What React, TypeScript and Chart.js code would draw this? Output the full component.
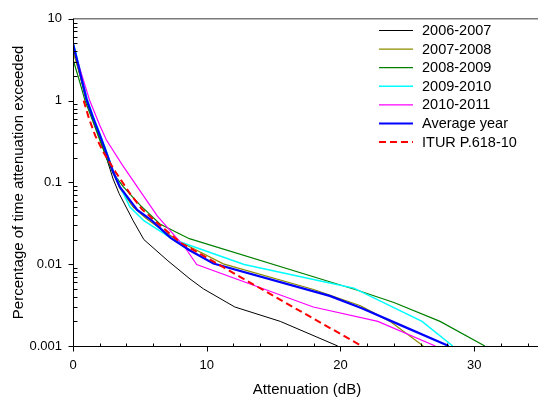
import React, { useEffect, useRef } from "react";
import { Chart, registerables } from "chart.js";

Chart.register(...registerables);

// ---- data ----
const seriesLabels = [
  "2006-2007",
  "2007-2008",
  "2008-2009",
  "2009-2010",
  "2010-2011",
  "Average year",
  "ITUR P.618-10",
];

const att0607 = [0, 0.5, 1, 1.5, 2, 2.5, 3, 3.45, 4.5, 5.3, 7.1, 8.75, 9.75, 12.1, 15.5, 19.8];
const pct0607 = [4.5, 2.1, 1.0, 0.58, 0.35, 0.2, 0.11, 0.073, 0.034, 0.02, 0.011, 0.0066, 0.005, 0.003, 0.002, 0.001];

const att0708 = [0, 0.5, 1, 1.5, 2, 2.5, 3, 3.5, 4.5, 5.5, 7, 8, 11.24, 18, 21.5, 23.7, 26.2];
const pct0708 = [4.0, 2.1, 1.05, 0.6, 0.37, 0.22, 0.13, 0.085, 0.05, 0.036, 0.024, 0.0188, 0.0101, 0.0049, 0.0031, 0.002, 0.001];

const att0809 = [0, 0.5, 0.9, 1.5, 2, 2.5, 3, 3.77, 5, 6.5, 8.7, 19.2, 21.1, 24, 27.45, 30.8];
const pct0809 = [3.2, 1.7, 1.0, 0.55, 0.33, 0.2, 0.13, 0.088, 0.053, 0.031, 0.0205, 0.0061, 0.0049, 0.0034, 0.002, 0.001];

const att0910 = [0, 0.5, 1.1, 1.5, 2, 2.5, 3, 3.5, 4.26, 5.3, 7.5, 12.8, 19.2, 21, 26.1, 28.4];
const pct0910 = [5.2, 2.5, 1.0, 0.65, 0.4, 0.24, 0.14, 0.09, 0.05, 0.034, 0.02, 0.0099, 0.0059, 0.0051, 0.002, 0.001];

const att1011 = [0, 0.5, 1.25, 2, 2.5, 3.66, 4.9, 6.3, 8.38, 9.25, 17.97, 22.8, 27.1];
const pct1011 = [4.8, 2.5, 1.0, 0.5, 0.33, 0.166, 0.084, 0.039, 0.016, 0.0099, 0.003, 0.002, 0.001];

const attAvg = [0, 0.5, 1, 1.5, 2, 2.5, 3, 3.5, 4.8, 5.9, 7.3, 8.75, 10.5, 19.2, 21.6, 24.5, 28.1];
const pctAvg = [5.0, 2.3, 1.05, 0.62, 0.38, 0.23, 0.135, 0.088, 0.046, 0.034, 0.021, 0.0147, 0.0102, 0.0041, 0.0029, 0.0018, 0.001];

const attItu = [0.8, 1.2, 1.67, 2.3, 3.17, 4.29, 5.16, 6.16, 8.0, 12, 16, 21.6];
const pctItu = [1.0, 0.6, 0.37, 0.23, 0.135, 0.072, 0.047, 0.0335, 0.0185, 0.0078, 0.0033, 0.001];

const xTickValues = [0, 10, 20, 30];
const xTickLabels = ["0", "10", "20", "30"];
const yTickValues = [0.001, 0.01, 0.1, 1, 10];
const yTickLabels = ["0.001", "0.01", "0.1", "1", "10"];

const xTitle = "Attenuation (dB)";
const yTitle = "Percentage of time attenuation exceeded";

// ---- styles ----
const FONT = "'Liberation Sans', Arial, Helvetica, sans-serif";
const seriesStyles = [
  { color: "#000000", width: 1, dash: [] as number[], order: 6 },
  { color: "#8c8c00", width: 1.2, dash: [] as number[], order: 5 },
  { color: "#008000", width: 1.2, dash: [] as number[], order: 4 },
  { color: "#00ffff", width: 1.5, dash: [] as number[], order: 3 },
  { color: "#ff00ff", width: 1.2, dash: [] as number[], order: 2 },
  { color: "#0000ff", width: 2.2, dash: [] as number[], order: 1 },
  { color: "#ff0000", width: 2, dash: [7, 4], order: 0 },
];

const seriesData = [
  [att0607, pct0607],
  [att0708, pct0708],
  [att0809, pct0809],
  [att0910, pct0910],
  [att1011, pct1011],
  [attAvg, pctAvg],
  [attItu, pctItu],
];

const framePlugin = {
  id: "frame",
  afterDraw(chart: any) {
    const { ctx, chartArea: a, scales } = chart;
    const xs = scales.x;
    const ys = scales.y;
    ctx.save();
    // top border
    ctx.strokeStyle = "#7a7a7a";
    ctx.lineWidth = 1.5;
    ctx.beginPath();
    ctx.moveTo(a.left, a.top);
    ctx.lineTo(a.right, a.top);
    ctx.stroke();

    ctx.strokeStyle = "#000";
    ctx.lineWidth = 1;
    const L = Math.round(a.left) + 0.5;
    const B = Math.round(a.bottom) + 0.5;
    ctx.beginPath();
    ctx.moveTo(L, a.top);
    ctx.lineTo(L, B);
    ctx.lineTo(a.right, B);
    ctx.stroke();

    // x ticks
    for (let v = 0; v <= 34; v += 2) {
      const px = Math.round(xs.getPixelForValue(v)) + 0.5;
      ctx.beginPath();
      if (v % 10 === 0) {
        ctx.moveTo(px, B);
        ctx.lineTo(px, B + 5);
      } else {
        ctx.moveTo(px, B);
        ctx.lineTo(px, B - 3);
      }
      ctx.stroke();
    }
    // y ticks
    for (let e = -3; e <= 1; e++) {
      const base = Math.pow(10, e);
      const py = Math.round(ys.getPixelForValue(base)) + 0.5;
      ctx.beginPath();
      ctx.moveTo(L, py);
      ctx.lineTo(L - 5, py);
      ctx.stroke();
      if (e < 1) {
        for (let m = 2; m <= 9; m++) {
          const q = Math.round(ys.getPixelForValue(base * m)) + 0.5;
          ctx.beginPath();
          ctx.moveTo(L, q);
          ctx.lineTo(L + 4, q);
          ctx.stroke();
        }
      }
    }

    // legend
    ctx.font = `14.5px ${FONT}`;
    ctx.textBaseline = "middle";
    ctx.textAlign = "left";
    chart.data.datasets.forEach((ds: any, i: number) => {
      const y = 30.5 + i * 18.6;
      ctx.strokeStyle = ds.borderColor;
      ctx.lineWidth = ds.borderWidth;
      ctx.setLineDash(ds.borderDash || []);
      ctx.beginPath();
      ctx.moveTo(379, y);
      ctx.lineTo(413, y);
      ctx.stroke();
      ctx.setLineDash([]);
      ctx.fillStyle = "#000";
      ctx.fillText(ds.label, 422, y + 0.5);
    });
    ctx.restore();
  },
};

export default function App() {
  const ref = useRef<HTMLCanvasElement | null>(null);

  useEffect(() => {
    document.body.style.margin = "0";
    if (!ref.current) return;
    const datasets = seriesData.map(([xs, ys], i) => ({
      label: seriesLabels[i],
      data: xs.map((x, j) => ({ x, y: ys[j] })),
      borderColor: seriesStyles[i].color,
      backgroundColor: seriesStyles[i].color,
      borderWidth: seriesStyles[i].width,
      borderDash: seriesStyles[i].dash,
      order: seriesStyles[i].order,
      pointRadius: 0,
      fill: false,
      tension: 0,
    }));

    const chart = new Chart(ref.current, {
      type: "line",
      data: { datasets },
      options: {
        animation: false,
        responsive: false,
        devicePixelRatio: 1,
        layout: { padding: { top: 11, left: 0, right: 0, bottom: 0 } },
        plugins: {
          legend: { display: false },
          tooltip: { enabled: false },
        },
        scales: {
          x: {
            type: "linear",
            min: 0,
            max: 35,
            grid: { display: false, drawTicks: false },
            border: { display: false },
            afterBuildTicks: (s: any) => {
              s.ticks = xTickValues.map((v) => ({ value: v }));
            },
            afterFit: (s: any) => {
              s.height = 57;
            },
            ticks: {
              padding: 12,
              color: "#000",
              font: { family: FONT, size: 13 },
              maxRotation: 0,
              callback: (_v: any, i: number) => xTickLabels[i],
            },
            title: {
              display: true,
              text: xTitle,
              color: "#000",
              font: { family: FONT, size: 15 },
              padding: { top: 0, bottom: 4 },
            },
          },
          y: {
            type: "logarithmic",
            min: 0.001,
            max: 10,
            grid: { display: false, drawTicks: false },
            border: { display: false },
            afterBuildTicks: (s: any) => {
              s.ticks = yTickValues.map((v) => ({ value: v }));
            },
            afterFit: (s: any) => {
              s.width = 73;
            },
            ticks: {
              padding: 11,
              color: "#000",
              font: { family: FONT, size: 13 },
              callback: (_v: any, i: number) => yTickLabels[i],
            },
            title: {
              display: true,
              text: yTitle,
              color: "#000",
              font: { family: FONT, size: 15 },
              padding: { top: 10, bottom: 0 },
            },
          },
        },
      },
      plugins: [framePlugin],
    });
    return () => chart.destroy();
  }, []);

  return (
    <div style={{ width: 538, height: 403, overflow: "hidden", position: "relative" }}>
      <canvas ref={ref} width={541} height={403} style={{ display: "block" }} />
    </div>
  );
}
